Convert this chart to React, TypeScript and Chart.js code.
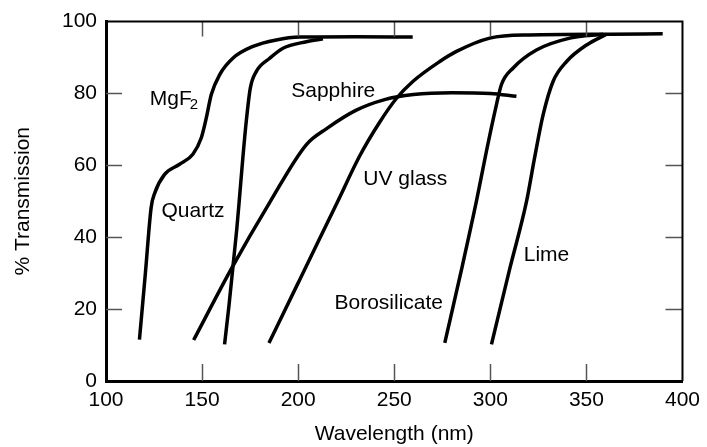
import React, { useEffect, useRef } from "react";
import { Chart, registerables } from "chart.js";

Chart.register(...registerables);

const FONT = '"Liberation Sans", Arial, Helvetica, sans-serif';

// Wavelength (nm) / % transmission
const mgf2X = [117.4, 120.5, 123.5, 125.5, 130.5, 138.3, 145.2, 149.6, 152.2, 154.8, 159.1, 166, 176.5, 188.6, 200.8, 230, 259.6];
const mgf2Y = [11.5, 30, 48.3, 52.5, 57.5, 60.3, 63.1, 67.7, 73.2, 79.7, 85.2, 89.8, 93.1, 94.9, 95.7, 95.8, 95.7];

const quartzX = [161.7, 164, 166, 168, 169.4, 171.2, 173, 175.1, 178.2, 185.2, 192.1, 204.3, 212.9];
const quartzY = [10.2, 21, 31.5, 42, 50.5, 62, 72.3, 81.5, 86.1, 89.8, 92.6, 94.4, 95.2];

const sapphireX = [145.6, 165.2, 185, 204.3, 215, 230, 245, 260, 280, 300, 313.6];
const sapphireY = [11.4, 31.2, 49.5, 65.8, 70.3, 75.3, 78.3, 79.7, 80.2, 80, 79.2];

const uvGlassX = [184.8, 200, 210, 220.7, 232, 242.4, 251.1, 259.8, 273.7, 282.4, 299.7, 320.5, 362.2, 389.7];
const uvGlassY = [10.6, 27.3, 38.3, 50.1, 62.6, 72, 78.6, 83.4, 88.9, 91.7, 95.4, 96.3, 96.5, 96.6];

const boroX = [276.3, 285, 292.8, 298, 303.2, 305.8, 311.9, 324, 341.4, 358.7];
const boroY = [10.6, 31, 50.1, 64, 76.9, 82.5, 87.1, 92.1, 95.4, 96.5];

const limeX = [300.6, 310, 318.9, 323, 327.5, 332.7, 339.7, 350.1, 360.5];
const limeY = [10.2, 31, 50.1, 62, 74.1, 83.4, 88.9, 93.5, 96.5];

const seriesNames = ["MgF2", "Quartz", "Sapphire", "UV glass", "Borosilicate", "Lime"];
const seriesXs = [mgf2X, quartzX, sapphireX, uvGlassX, boroX, limeX];
const seriesYs = [mgf2Y, quartzY, sapphireY, uvGlassY, boroY, limeY];

// Curve labels: text, subscript, anchor (left, baseline) in data units
const labelTexts = ["MgF", "Quartz", "Sapphire", "UV glass", "Borosilicate", "Lime"];
const labelSubs = ["2", "", "", "", "", ""];
const labelX = [122.8, 128.9, 196.4, 233.9, 218.9, 317.4];
const labelY = [76.9, 45.7, 78.9, 54.6, 20.1, 33.5];

const xMin = 100, xMax = 400, xStep = 50;
const yMin = 0, yMax = 100, yStep = 20;
const innerXTicks = [150, 200, 250, 300, 350];
const innerYTicks = [20, 40, 60, 80];

const framePlugin = {
  id: "frame",
  afterDraw(chart: any) {
    const { ctx, chartArea, scales } = chart;
    const { left, right, top, bottom } = chartArea;
    const xs = scales.x, ys = scales.y;
    ctx.save();
    // inward ticks
    ctx.strokeStyle = "#555";
    ctx.lineWidth = 1.5;
    ctx.beginPath();
    innerXTicks.forEach((v) => {
      const p = Math.round(xs.getPixelForValue(v)) + 0.5;
      ctx.moveTo(p, top); ctx.lineTo(p, top + 15);
      ctx.moveTo(p, bottom); ctx.lineTo(p, bottom - 17);
    });
    innerYTicks.forEach((v) => {
      const p = Math.round(ys.getPixelForValue(v)) + 0.5;
      ctx.moveTo(left, p); ctx.lineTo(left + 16, p);
      ctx.moveTo(right, p); ctx.lineTo(right - 17, p);
    });
    ctx.stroke();
    // top and right frame
    ctx.strokeStyle = "#000";
    ctx.lineWidth = 2;
    ctx.beginPath();
    ctx.moveTo(left, top); ctx.lineTo(right, top); ctx.lineTo(right, bottom);
    ctx.stroke();
    // labels
    ctx.fillStyle = "#000";
    ctx.textAlign = "left";
    ctx.textBaseline = "alphabetic";
    labelTexts.forEach((t, i) => {
      const px = xs.getPixelForValue(labelX[i]);
      const py = ys.getPixelForValue(labelY[i]);
      ctx.font = `21px ${FONT}`;
      ctx.fillText(t, px, py);
      if (labelSubs[i]) {
        const w = ctx.measureText(t).width;
        ctx.font = `15px ${FONT}`;
        ctx.fillText(labelSubs[i], px + w - 2, py + 4);
      }
    });
    ctx.restore();
  },
};

export default function App() {
  const ref = useRef<HTMLCanvasElement | null>(null);
  useEffect(() => {
    if (!ref.current) return;
    const datasets = seriesNames.map((name, i) => ({
      label: name,
      data: seriesXs[i].map((x, j) => ({ x, y: seriesYs[i][j] })),
      showLine: true,
      borderColor: "#000",
      backgroundColor: "#000",
      borderWidth: 3.5,
      pointRadius: 0,
      cubicInterpolationMode: "monotone" as const,
      fill: false,
      clip: false as any,
    }));
    const chart = new Chart(ref.current, {
      type: "scatter",
      data: { datasets },
      options: {
        animation: false,
        responsive: false,
        devicePixelRatio: 1,
        layout: { padding: { top: 20, right: 23, left: 0, bottom: 0 } },
        plugins: { legend: { display: false }, tooltip: { enabled: false } },
        scales: {
          x: {
            type: "linear",
            min: xMin,
            max: xMax,
            ticks: { stepSize: xStep, color: "#000", font: { family: FONT, size: 21 }, padding: 7, maxRotation: 0 },
            grid: { drawOnChartArea: false, drawTicks: false },
            border: { display: true, color: "#000", width: 3 },
            title: { display: true, text: "Wavelength (nm)", color: "#000", font: { family: FONT, size: 21 }, padding: { top: 0, bottom: 0 } },
            afterFit: (s: any) => { s.height = 66; },
          },
          y: {
            type: "linear",
            min: yMin,
            max: yMax,
            ticks: { stepSize: yStep, color: "#000", font: { family: FONT, size: 21 }, padding: 9 },
            grid: { drawOnChartArea: false, drawTicks: false },
            border: { display: true, color: "#000", width: 3 },
            title: { display: true, text: "% Transmission", color: "#000", font: { family: FONT, size: 21 }, padding: { top: 11, bottom: 0 } },
            afterFit: (s: any) => { s.width = 106; },
          },
        },
      },
      plugins: [framePlugin],
    });
    return () => chart.destroy();
  }, []);
  return (
    <div style={{ position: "fixed", left: 0, top: 0, width: 707, height: 447, background: "#fff" }}>
      <canvas ref={ref} width={707} height={447} style={{ display: "block", width: 707, height: 447 }} />
    </div>
  );
}
